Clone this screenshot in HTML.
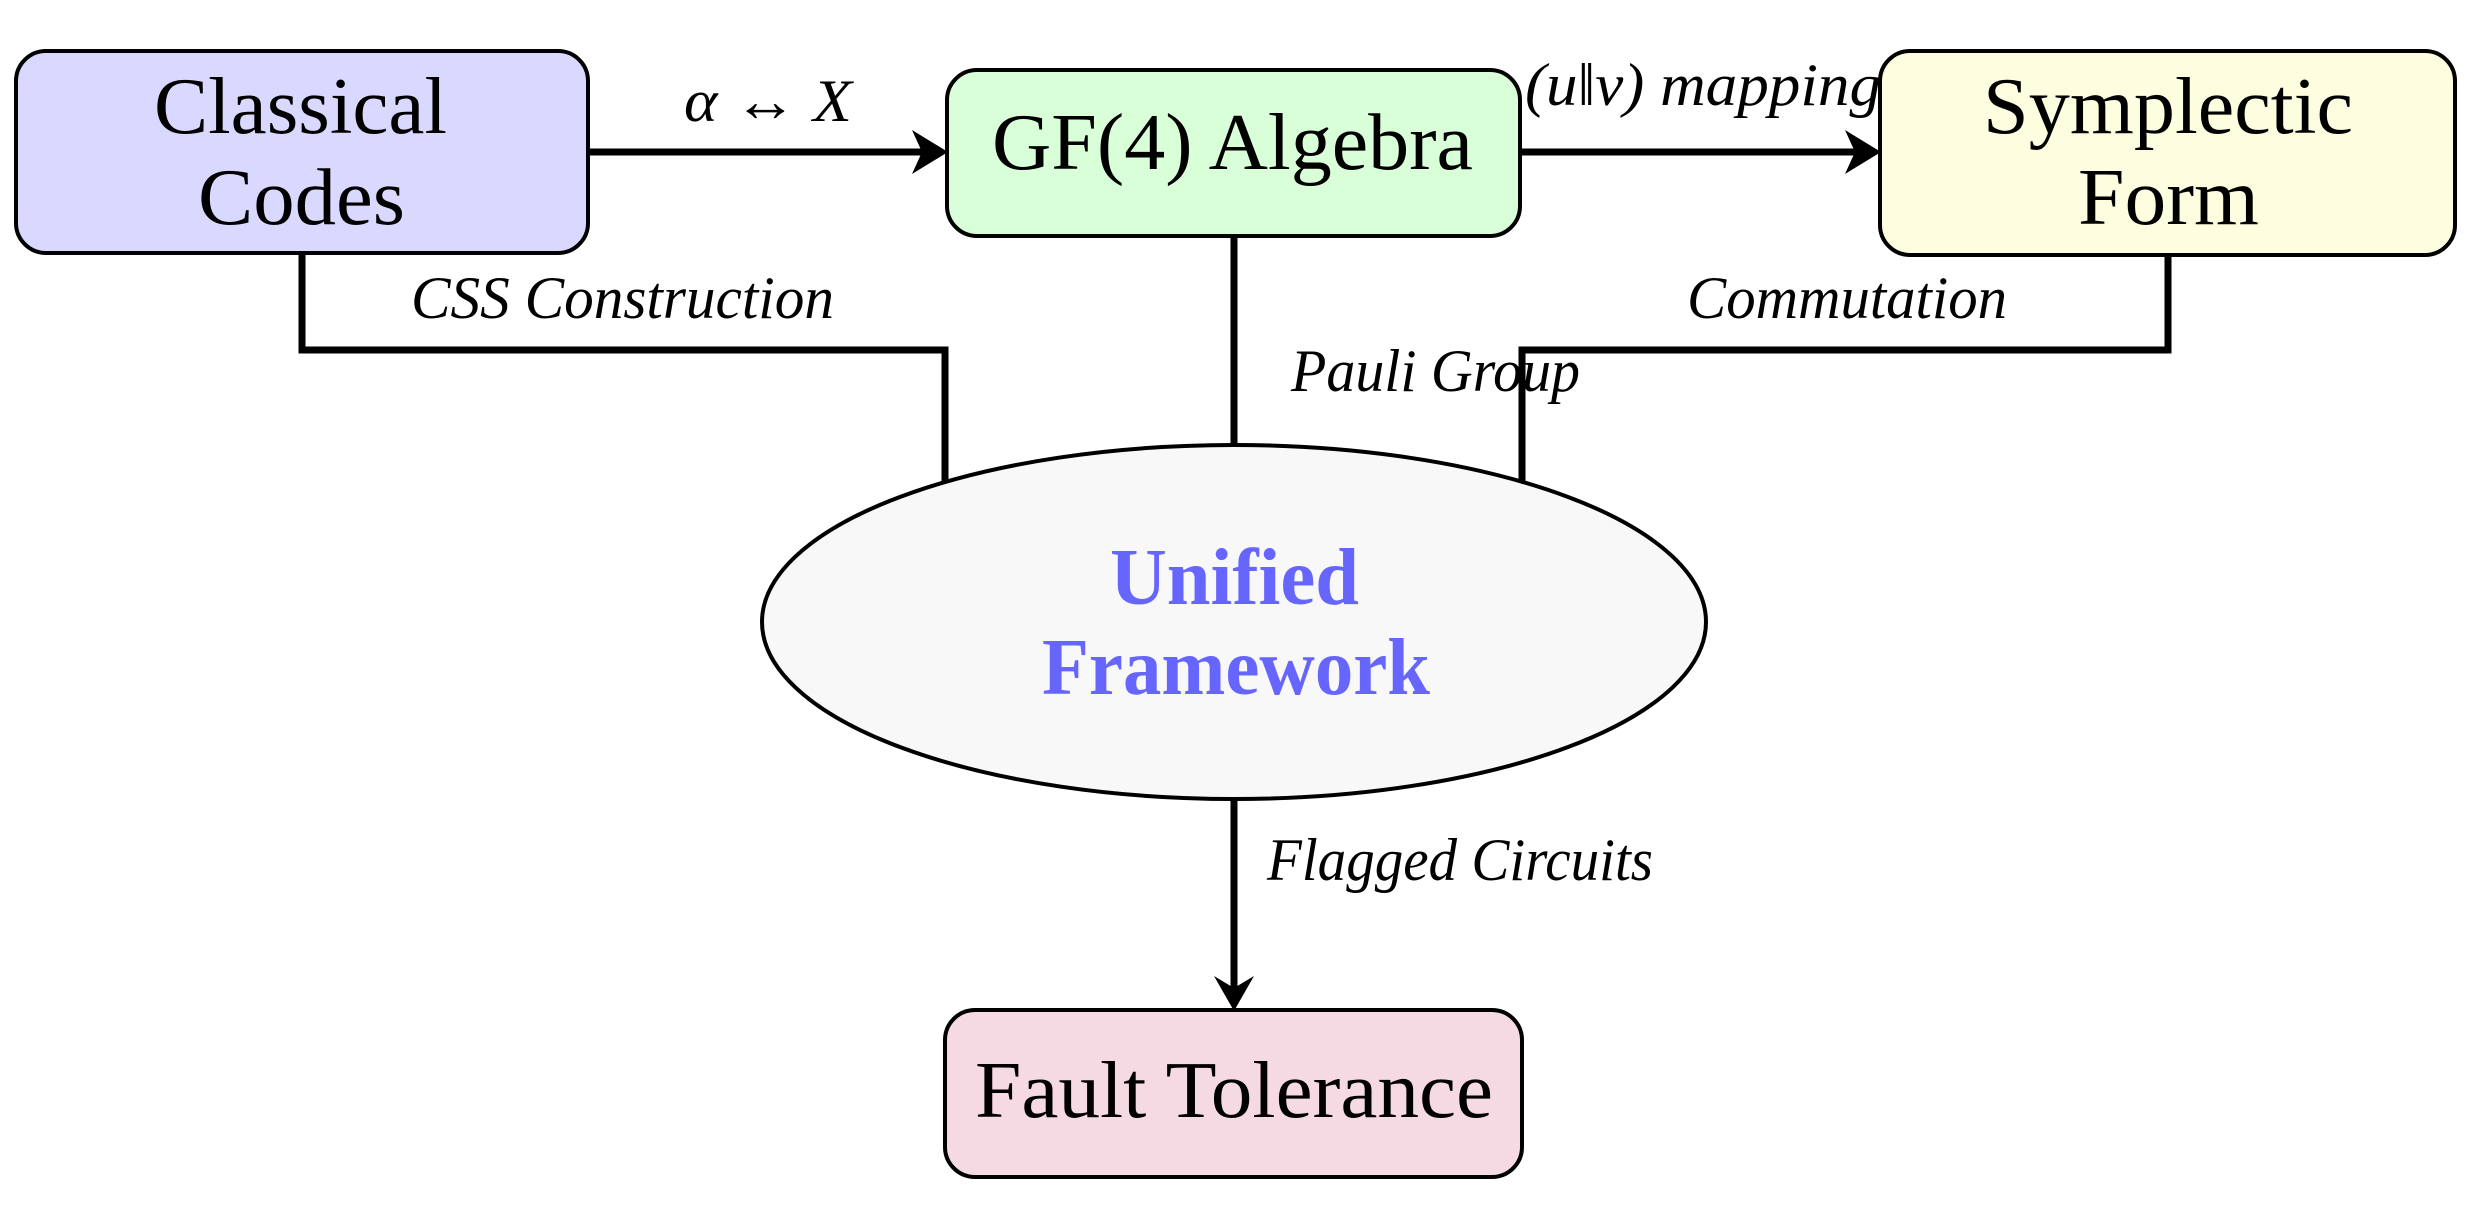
<!DOCTYPE html>
<html><head><meta charset="utf-8"><style>html,body{margin:0;padding:0;background:#fff}svg{display:block}</style></head>
<body>
<svg width="2478" height="1205" viewBox="0 0 2478 1205" xmlns="http://www.w3.org/2000/svg">
<g fill="none" stroke="#000" stroke-width="7">
<path d="M302 253 V350 H945 V481"/>
<path d="M1234 236 V445"/>
<path d="M2168 253 V350 H1522 V481"/>
<path d="M589 152 H935"/>
<path d="M1520 152 H1870"/>
<path d="M1234 800 V1000"/>
</g>
<g fill="#000">
<path d="M948 152 L912 130 L922 152 L912 174 Z"/>
<path d="M1881 152 L1845 130 L1855 152 L1845 174 Z"/>
<path d="M1234 1011 L1214 976 L1234 988 L1254 976 Z"/>
</g>
<g stroke="#000" stroke-width="4">
<rect x="16" y="51" width="572" height="202" rx="30" fill="#d9d9ff"/>
<rect x="947" y="70" width="573" height="166" rx="30" fill="#d9ffd9"/>
<rect x="1880" y="51" width="575" height="204" rx="30" fill="#fdfde0"/>
<rect x="945" y="1010" width="577" height="167" rx="30" fill="#f5d9e3"/>
<ellipse cx="1234" cy="622" rx="472" ry="177" fill="#f8f8f8"/>
</g>
<g font-family="Liberation Serif, serif" font-size="80" fill="#000">
<text x="154" y="133" textLength="293" lengthAdjust="spacingAndGlyphs">Classical</text>
<text x="198" y="224" textLength="207" lengthAdjust="spacingAndGlyphs">Codes</text>
<text x="992" y="169" textLength="481" lengthAdjust="spacingAndGlyphs">GF(4) Algebra</text>
<text x="1983" y="133" textLength="370" lengthAdjust="spacingAndGlyphs">Symplectic</text>
<text x="2078" y="224" textLength="181" lengthAdjust="spacingAndGlyphs">Form</text>
<text x="975" y="1117" textLength="518" lengthAdjust="spacingAndGlyphs">Fault Tolerance</text>
</g>
<g font-family="Liberation Serif, serif" font-size="80" font-weight="bold" fill="#6666ff">
<text x="1110" y="604" textLength="249" lengthAdjust="spacingAndGlyphs">Unified</text>
<text x="1042" y="694" textLength="388" lengthAdjust="spacingAndGlyphs">Framework</text>
</g>
<g font-family="Liberation Serif, serif" font-size="60" font-style="italic" fill="#000">
<text x="684" y="121" textLength="168" lengthAdjust="spacingAndGlyphs">α ↔ X</text>
<text x="1525" y="105" textLength="356" lengthAdjust="spacingAndGlyphs">(u‖v) mapping</text>
<text x="411" y="318" textLength="423" lengthAdjust="spacingAndGlyphs">CSS Construction</text>
<text x="1687" y="318" textLength="320" lengthAdjust="spacingAndGlyphs">Commutation</text>
<text x="1291" y="391" textLength="289" lengthAdjust="spacingAndGlyphs">Pauli Group</text>
<text x="1267" y="880" textLength="386" lengthAdjust="spacingAndGlyphs">Flagged Circuits</text>
</g>
</svg>
</body></html>
